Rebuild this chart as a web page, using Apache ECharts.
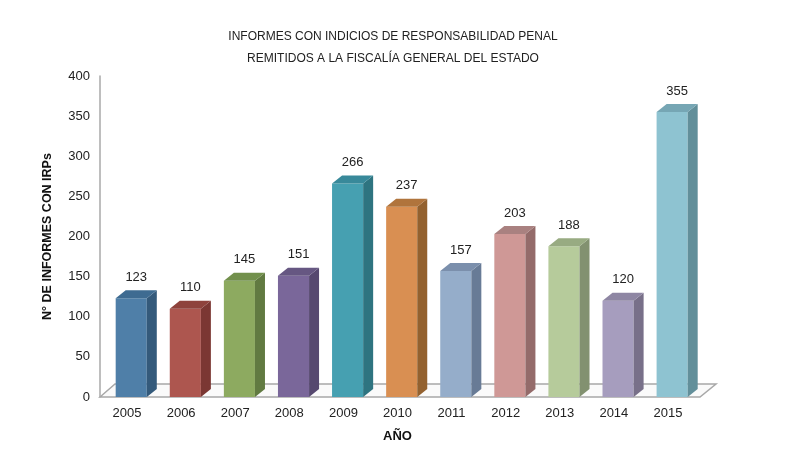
<!DOCTYPE html>
<html>
<head>
<meta charset="utf-8">
<script src="https://cdn.jsdelivr.net/npm/echarts@6/dist/echarts.min.js"></script>
<style>
  html, body { margin: 0; padding: 0; background: #fff; }
  #main { width: 791px; height: 471px; }
</style>
</head>
<body>
<div id="main"></div>
<script>
'use strict';

// datos del gráfico
var years = ['2005', '2006', '2007', '2008', '2009', '2010', '2011', '2012', '2013', '2014', '2015'];
var informes = [123, 110, 145, 151, 266, 237, 157, 203, 188, 120, 355];
var yTicks = [0, 50, 100, 150, 200, 250, 300, 350, 400];

// colores de cada barra: cara frontal, lateral, superior
var frontColors = ['#4f7fa8', '#ad564f', '#8daa60', '#7a679a', '#46a0b1', '#d98f52', '#95adca', '#cf9896', '#b6cb9b', '#a69dbe', '#8ec3d1'];
var sideColors = ['#345a7b', '#7b3733', '#617a41', '#56486f', '#2e7480', '#93612f', '#687b96', '#946b6a', '#829170', '#787089', '#628f9a'];
var topColors = ['#3e6b91', '#8e423c', '#72904c', '#665782', '#38899a', '#b0743c', '#7b8fac', '#a98180', '#98ab82', '#8e86a3', '#76a6b4'];

var chart = echarts.init(document.getElementById('main'));

function renderBar(params, api) {
    var i = api.value(0);
    var v = api.value(1);
    var top = api.coord([i, v]);
    var base = api.coord([i, 0]);
    var band = api.size([1, 0])[0];
    var w = band * 0.575, dx = 10, dy = 8;
    var x0 = top[0] - band * 0.21;
    var y1 = top[1], y0 = base[1];
    return {
        type: 'group',
        children: [
            {
                type: 'rect',
                shape: {x: x0, y: y1, width: w, height: y0 - y1},
                style: {fill: frontColors[i]}
            },
            {
                type: 'polygon',
                shape: {points: [[x0 + w, y1], [x0 + w + dx, y1 - dy], [x0 + w + dx, y0 - dy], [x0 + w, y0]]},
                style: {fill: sideColors[i]}
            },
            {
                type: 'polygon',
                shape: {points: [[x0, y1], [x0 + dx, y1 - dy], [x0 + w + dx, y1 - dy], [x0 + w, y1]]},
                style: {fill: topColors[i]}
            },
            {
                type: 'text',
                x: x0 + (w + dx) / 2,
                y: y1 - 21,
                style: {
                    text: String(v),
                    fill: '#222',
                    font: '13px "Liberation Sans", sans-serif',
                    align: 'center',
                    verticalAlign: 'middle'
                }
            }
        ]
    };
}

var option = {
    animation: false,
    title: {
        text: 'INFORMES CON INDICIOS DE RESPONSABILIDAD PENAL\nREMITIDOS A LA FISCALÍA GENERAL DEL ESTADO',
        left: 388,
        top: 21,
        textAlign: 'center',
        textStyle: {
            fontFamily: '"Liberation Sans", sans-serif',
            fontSize: 12,
            fontWeight: 'normal',
            color: '#222',
            lineHeight: 22
        }
    },
    grid: {left: 100, right: 96, top: 76, bottom: 74},
    xAxis: {
        type: 'category',
        data: years,
        name: 'AÑO',
        nameLocation: 'middle',
        nameGap: 33,
        nameTextStyle: {fontFamily: '"Liberation Sans", sans-serif', fontSize: 13, fontWeight: 'bold', color: '#111'},
        axisLine: {show: false},
        axisTick: {show: false},
        axisLabel: {margin: 10, fontFamily: '"Liberation Sans", sans-serif', fontSize: 13, color: '#222'}
    },
    yAxis: {
        type: 'value',
        min: yTicks[0],
        max: yTicks[yTicks.length - 1],
        interval: 50,
        name: 'N° DE INFORMES CON IRPs',
        nameLocation: 'middle',
        nameRotate: 90,
        nameGap: 46,
        nameTextStyle: {fontFamily: '"Liberation Sans", sans-serif', fontSize: 12.5, fontWeight: 'bold', color: '#111'},
        axisLine: {show: true, lineStyle: {color: '#a8a8a8', width: 1.5}},
        axisTick: {show: false},
        splitLine: {show: false},
        axisLabel: {margin: 10, fontFamily: '"Liberation Sans", sans-serif', fontSize: 13, color: '#222'}
    },
    series: [{
        type: 'custom',
        renderItem: renderBar,
        z: 5,
        data: informes.map(function (v, i) { return [i, v]; })
    }]
};
chart.setOption(option);

// suelo en perspectiva
var p0 = chart.convertToPixel({gridIndex: 0}, [0, 0]);
var band = chart.convertToPixel({gridIndex: 0}, [1, 0])[0] - p0[0];
var fl = p0[0] - band / 2, fr = fl + band * years.length + 5, fy = p0[1];
chart.setOption({
    graphic: [{
        type: 'polygon',
        z: 1,
        shape: {points: [[fl, fy], [fl + 15, fy - 13], [fr + 16, fy - 13], [fr, fy]]},
        style: {fill: '#fafafa', stroke: '#a8a8a8', lineWidth: 1.5}
    }]
});
</script>
</body>
</html>
